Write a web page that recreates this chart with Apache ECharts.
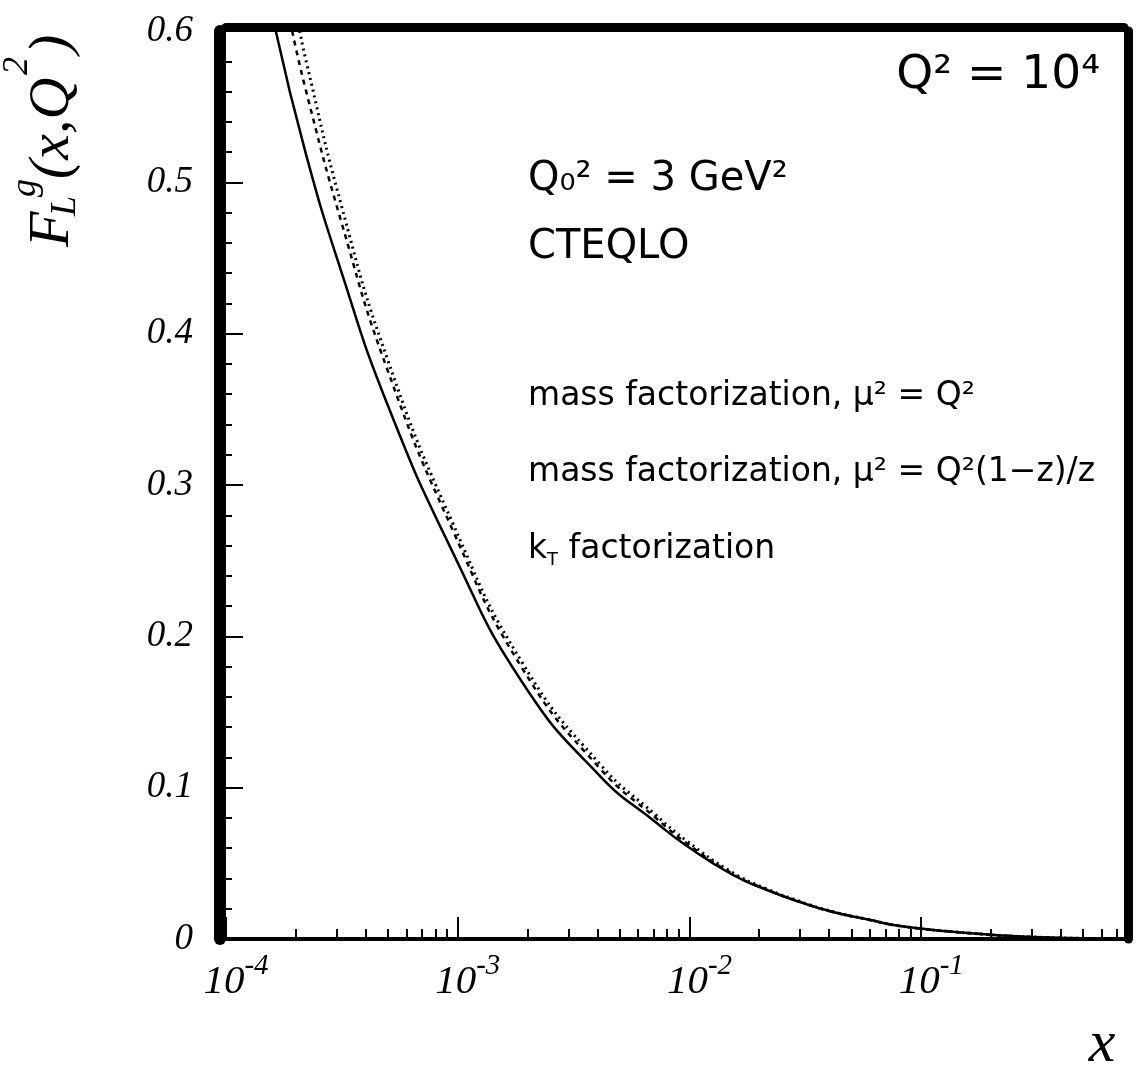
<!DOCTYPE html>
<html>
<head>
<meta charset="utf-8">
<script src="https://cdn.jsdelivr.net/npm/echarts@6/dist/echarts.min.js"></script>
<style>
html,body{margin:0;padding:0;background:#fff;}
#chart{width:1136px;height:1068px;}
</style>
</head>
<body>
<div id="chart"></div>
<script>
// ---- data ----
const xMin = 1e-4;
const xMax = 0.75;
const yMin = 0;
const yMax = 0.6;
const xMajorExponents = [-4, -3, -2, -1];
const xMinorMultipliers = [2, 3, 4, 5, 6, 7, 8, 9];

// x positions at which the curves were read
const xRead = [2.21e-4, 3.13e-4, 4.95e-4, 9.55e-4, 1.91e-3, 4.11e-3, 7.24e-3, 9.75e-3,
               1.54e-2, 2.16e-2, 3.0e-2, 4.17e-2, 5.83e-2, 8.11e-2, 0.158, 0.304, 0.59, 0.75];

// mass factorization, mu^2 = Q^2 (solid)
const xSolid = [1.64e-4].concat(xRead);
const ySolid = [0.600, 0.519, 0.442, 0.354, 0.255, 0.169, 0.1077, 0.0765, 0.0614,
                0.0423, 0.0324, 0.0244, 0.0178, 0.0130, 0.0086, 0.0040, 0.0013, 0.0003, 0.0002];

// mass factorization, mu^2 = Q^2(1-z)/z (dashed)
const xDashed = [1.93e-4].concat(xRead);
const yDashed = [0.600, 0.561, 0.475, 0.377, 0.2696, 0.1782, 0.1127, 0.0793, 0.0632,
                 0.0429, 0.0326, 0.0245, 0.0178, 0.0130, 0.0086, 0.0040, 0.0013, 0.0003, 0.0002];

// kT factorization (dotted)
const xDotted = [2.08e-4].concat(xRead);
const yDotted = [0.600, 0.581, 0.486, 0.384, 0.2742, 0.1819, 0.1155, 0.0813, 0.0647,
                 0.0437, 0.0331, 0.0248, 0.0180, 0.0131, 0.0086, 0.0040, 0.0013, 0.0003, 0.0002];

const seriesNames = ['mass factorization, \u03bc\u00b2 = Q\u00b2', 'mass factorization, \u03bc\u00b2 = Q\u00b2(1\u2212z)/z', 'kT factorization'];

// ---- build ----
const lx = v => Math.log10(v);
const pairs = (xs, ys) => xs.map((x, i) => [lx(x), ys[i]]);
const lMin = lx(xMin), lMax = lx(xMax);
const minorTicks = [];
xMajorExponents.forEach(e => xMinorMultipliers.forEach(m => {
  const v = e + Math.log10(m);
  if (v <= lMax) minorTicks.push(v);
}));

const serif = '"Liberation Serif", "DejaVu Serif", serif';
const sans = '"DejaVu Sans", sans-serif';

function T(x, y, text, size, opts) {
  opts = opts || {};
  return {
    type: 'text', x: x, y: y, silent: true,
    style: Object.assign({
      text: text, fill: '#000', fontSize: size, fontFamily: opts.family || sans,
      fontStyle: opts.italic ? 'italic' : 'normal',
      textAlign: opts.align || 'left', align: opts.align || 'left',
      textVerticalAlign: 'middle', verticalAlign: 'middle'
    }, opts.extra || {})
  };
}

const chart = echarts.init(document.getElementById('chart'), null, {renderer: 'canvas'});
const frameAxisBase = {min: lMin, max: lMax, axisTick: {show: false}, axisLabel: {show: false}, splitLine: {show: false}};
const lineBase = {type: 'line', showSymbol: false, symbol: 'none', smooth: 0.5, z: 3};
const option = {
  animation: false,
  backgroundColor: '#fff',
  grid: {left: 226, right: 12, top: 31, bottom: 129, containLabel: false},
  xAxis: [
    {
      type: 'value', min: lMin, max: lMax, position: 'bottom',
      axisLine: {show: true, onZero: false, lineStyle: {color: '#000', width: 4}},
      axisTick: {show: true, inside: true, length: 22, lineStyle: {color: '#000', width: 2}, customValues: xMajorExponents},
      axisLabel: {
        show: true, customValues: xMajorExponents, margin: 13, padding: [0, 0, 0, 20],
        formatter: v => '{b|10}{s|' + v + '}',
        rich: {
          b: {fontFamily: serif, fontStyle: 'italic', fontSize: 41, lineHeight: 42, padding: [18, 0, 0, 0], color: '#000'},
          s: {fontFamily: serif, fontStyle: 'italic', fontSize: 29, lineHeight: 30, verticalAlign: 'top', color: '#000'}
        }
      },
      splitLine: {show: false}
    },
    {
      type: 'value', min: lMin, max: lMax, position: 'bottom',
      axisLine: {show: false, onZero: false},
      axisTick: {show: true, inside: true, length: 10, lineStyle: {color: '#000', width: 2}, customValues: minorTicks},
      axisLabel: {show: false}, splitLine: {show: false}
    },
    Object.assign({type: 'value', position: 'top', offset: 4,
      axisLine: {show: true, onZero: false, lineStyle: {color: '#000', width: 9}}}, frameAxisBase)
  ],
  yAxis: [
    {
      type: 'value', min: yMin, max: yMax, interval: 0.1, position: 'left',
      axisLine: {show: false, onZero: false},
      axisTick: {show: true, inside: true, length: 17, lineStyle: {color: '#000', width: 2}},
      minorTick: {show: true, splitNumber: 5, length: 6, lineStyle: {color: '#000', width: 2}},
      axisLabel: {
        margin: 33, color: '#000', fontFamily: serif, fontStyle: 'italic', fontSize: 37,
        formatter: v => (Math.abs(v) < 1e-9 ? '0' : v.toFixed(1))
      },
      splitLine: {show: false}
    },
    {type: 'value', min: yMin, max: yMax, position: 'left', offset: 6,
      axisLine: {show: true, onZero: false, lineStyle: {color: '#000', width: 12}},
      axisTick: {show: false}, axisLabel: {show: false}, splitLine: {show: false}},
    {type: 'value', min: yMin, max: yMax, position: 'right', offset: 4,
      axisLine: {show: true, onZero: false, lineStyle: {color: '#000', width: 9}},
      axisTick: {show: false}, axisLabel: {show: false}, splitLine: {show: false}}
  ],
  series: [
    Object.assign({name: seriesNames[0], data: pairs(xSolid, ySolid),
      lineStyle: {color: '#000', width: 2.5, type: 'solid'}}, lineBase),
    Object.assign({name: seriesNames[1], data: pairs(xDashed, yDashed),
      lineStyle: {color: '#000', width: 2.5, type: [5, 5]}}, lineBase),
    Object.assign({name: seriesNames[2], data: pairs(xDotted, yDotted),
      lineStyle: {color: '#000', width: 3, type: [2, 4]}}, lineBase)
  ],
  graphic: [
    // y-axis title F_L^g(x,Q^2), rotated
    {type: 'group', x: 78, y: 247, rotation: Math.PI / 2, silent: true, children: [
      T(0, -25, 'F', 58, {family: serif, italic: true}),
      T(31, -12, 'L', 36, {family: serif, italic: true}),
      T(50, -52, 'g', 36, {family: serif, italic: true}),
      T(68, -25, '(x,Q', 58, {family: serif, italic: true}),
      T(172, -60, '2', 36, {family: serif, italic: true}),
      T(193, -25, ')', 58, {family: serif, italic: true})
    ]},
    // x-axis title
    T(1102, 1045, 'x', 60, {family: serif, italic: true, align: 'center'}),
    // annotations
    T(1100, 76, 'Q\u00b2 = 10\u2074', 47, {align: 'right'}),
    T(528, 180, 'Q\u2080\u00b2 = 3 GeV\u00b2', 40),
    T(528, 248, 'CTEQLO', 40),
    T(528, 396, seriesNames[0], 33),
    T(528, 472, seriesNames[1], 33),
    {type: 'text', x: 528, y: 549, silent: true, style: {
      text: '{n|k}{t|T}{n| factorization}', fill: '#000', textAlign: 'left', align: 'left',
      textVerticalAlign: 'middle', verticalAlign: 'middle',
      rich: {
        n: {fontFamily: sans, fontSize: 33, lineHeight: 40, fill: '#000'},
        t: {fontFamily: sans, fontSize: 18, lineHeight: 40, verticalAlign: 'bottom', fill: '#000'}
      }
    }}
  ]
};
chart.setOption(option);
</script>
</body>
</html>
